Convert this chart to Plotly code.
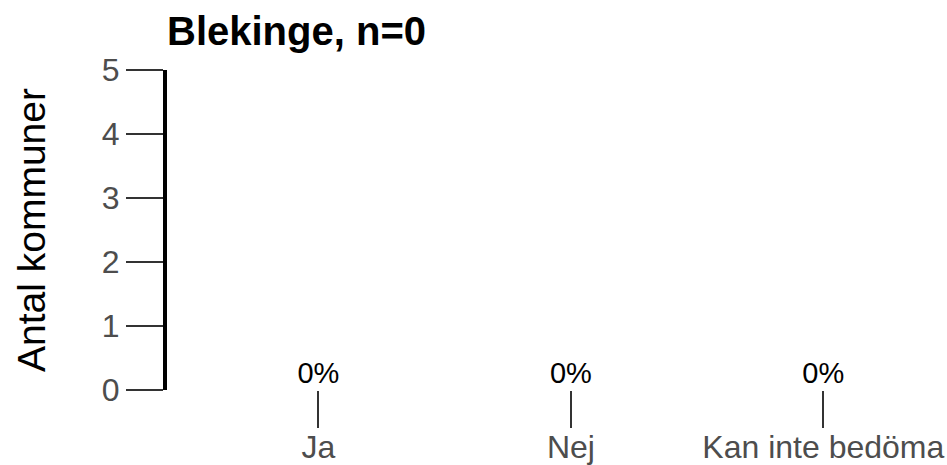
import plotly.graph_objects as go

categories = ["Ja", "Nej", "Kan inte bedöma"]
counts = [0, 0, 0]
pct_labels = ["0%", "0%", "0%"]
y_ticks = [0, 1, 2, 3, 4, 5]

fig = go.Figure()
fig.add_trace(go.Scatter(
    x=categories, y=counts, mode="text", text=pct_labels,
    textposition="top center", textfont=dict(family="Liberation Sans", size=29, color="black"),
    showlegend=False, cliponaxis=False))

fig.update_layout(
    width=947, height=465,
    margin=dict(l=167, r=0, t=70, b=75, autoexpand=False),
    paper_bgcolor="white", plot_bgcolor="white",
    font=dict(family="Liberation Sans"),
    title=dict(text="<b>Blekinge, n=0</b>", x=0, xref="paper", xanchor="left",
               y=1 - 31 / 465, yref="container", yanchor="middle",
               font=dict(size=40, color="black")),
)
fig.update_xaxes(
    range=[-0.6, 2.49], showgrid=False, zeroline=False, showline=False,
    ticks="outside", ticklen=37, tickwidth=2, tickcolor="#333333",
    tickfont=dict(size=32, color="#4d4d4d"), automargin=False, ticklabelstandoff=-8)
fig.update_yaxes(
    range=[0, 5], tickvals=y_ticks, showgrid=False, zeroline=False,
    showline=True, linewidth=4, linecolor="black",
    ticks="outside", ticklen=37, tickwidth=2, tickcolor="#333333",
    tickfont=dict(size=32, color="#4d4d4d"), automargin=False,
    title=dict(text="Antal kommuner", font=dict(size=39, color="black"), standoff=45))

# drop the default page margin so the figure sits at the window's corner
fig.write_html("out.html", config={"displayModeBar": False},
               post_script="document.body.style.margin='0px';")
